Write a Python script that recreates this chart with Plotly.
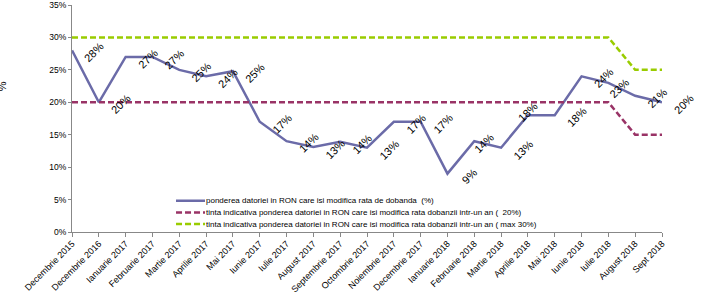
import plotly.graph_objects as go

categories = ["Decembrie 2015", "Decembrie 2016", "Ianuarie 2017", "Februarie 2017", "Martie 2017",
              "Aprilie 2017", "Mai 2017", "Iunie 2017", "Iulie 2017", "August 2017", "Septembrie 2017",
              "Octombrie 2017", "Noiembrie 2017", "Decembrie 2017", "Ianuarie 2018", "Februarie 2018",
              "Martie 2018", "Aprilie 2018", "Mai 2018", "Iunie 2018", "Iulie 2018", "August 2018", "Sept 2018"]
pondere = [28, 20, 27, 27, 25, 24, 24.8, 17, 14, 13.1, 13.9, 13, 17, 17, 9, 14, 13, 18, 18, 24, 23, 21, 20]
pondere_labels = ["28%", "20%", "27%", "27%", "25%", "24%", "25%", "17%", "14%", "13%", "14%", "13%",
                  "17%", "17%", "9%", "14%", "13%", "18%", "18%", "24%", "23%", "21%", "20%"]
tinta_20 = [20] * 21 + [15, 15]
tinta_30 = [30] * 21 + [25, 25]
series_names = [
    "ponderea datoriei in RON care isi modifica rata de dobanda  (%)",
    "tinta indicativa ponderea datoriei in RON care isi modifica rata dobanzii intr-un an (  20%)",
    "tinta indicativa ponderea datoriei in RON care isi modifica rata dobanzii intr-un an ( max 30%)",
]
y_ticks = [0, 5, 10, 15, 20, 25, 30, 35]
y_tick_labels = ["0%", "5%", "10%", "15%", "20%", "25%", "30%", "35%"]

colors = ["#6B6BA8", "#993366", "#99CC00"]
dashes = ["solid", "6px,3px", "6px,3px"]
FONT = "Liberation Sans, Arial, sans-serif"

fig = go.Figure()
for vals, name, col, dash in zip([pondere, tinta_20, tinta_30], series_names, colors, dashes):
    fig.add_trace(go.Scatter(x=categories, y=vals, name=name, mode="lines",
                             line=dict(color=col, width=2.5, dash=dash), showlegend=False))

# data labels (rotated, offset to the right as in original)
default_shift = (22, 0)
shift_exceptions = {15: (10, 0), 17: (0, 5), 20: (11, -3)}
for i, (c, v, t) in enumerate(zip(categories, pondere, pondere_labels)):
    xs, ys = shift_exceptions.get(i, default_shift)
    fig.add_annotation(x=c, y=v, text=t, showarrow=False, textangle=-45,
                       xshift=xs, yshift=ys - 2, font=dict(family=FONT, size=11, color="#000"))

# manual legend
leg_y = [0.1377, 0.0862, 0.0352]
for name, col, dash, yy in zip(series_names, colors, dashes, leg_y):
    fig.add_shape(type="line", xref="paper", yref="paper", x0=0.1763, x1=0.2254, y0=yy, y1=yy,
                  line=dict(color=col, width=2.5, dash=dash))
    fig.add_annotation(xref="paper", yref="paper", x=0.224, y=yy, text=name, showarrow=False,
                       xanchor="left", yanchor="middle", font=dict(family=FONT, size=8, color="#000"))

# clipped axis title remnant
fig.add_annotation(xref="paper", yref="paper", x=-0.133, y=0.64, text="%", showarrow=False,
                   textangle=-90, font=dict(family=FONT, size=11, color="#000"))

fig.update_layout(
    width=711, height=293,
    margin=dict(l=72, r=49, t=5, b=61),
    paper_bgcolor="white", plot_bgcolor="white",
    font=dict(family=FONT, color="#000"),
    showlegend=False,
)
fig.update_xaxes(type="category", range=[0, 22], showgrid=False, showline=True, linecolor="#888",
                 linewidth=1, ticks="outside", ticklen=4, tickcolor="#888", tickangle=-45,
                 tickfont=dict(family=FONT, size=9), automargin=False, ticklabeloverflow="allow",
                 ticklabelstandoff=-2)
fig.update_yaxes(range=[0, 35], tickmode="array", tickvals=y_ticks, ticktext=y_tick_labels,
                 showgrid=False, showline=True, ticklabeloverflow="allow",
                 linecolor="#888", linewidth=1, ticks="outside", ticklen=3, tickcolor="#888",
                 tickfont=dict(family=FONT, size=8.5), zeroline=False, automargin=False)

fig.write_html("out.html", config={"displayModeBar": False},
               post_script="document.body.style.margin='0';document.body.style.overflow='hidden';")
